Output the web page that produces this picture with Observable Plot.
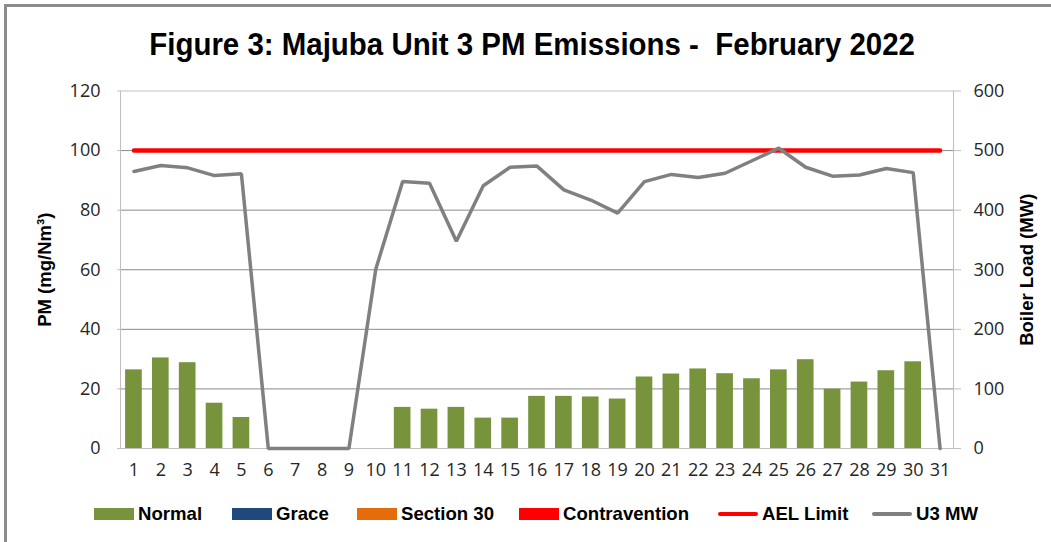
<!DOCTYPE html>
<html>
<head>
<meta charset="utf-8">
<script src="https://cdn.jsdelivr.net/npm/d3@7"></script>
<script src="https://cdn.jsdelivr.net/npm/@observablehq/plot@0.6"></script>
<style>
  body { margin: 0; background: #fff; }
  #wrap { position: relative; width: 1051px; height: 542px; overflow: hidden; background: #fff; }
  #border { position: absolute; left: 4px; top: 4px; width: 1200px; height: 700px;
            border-left: 3px solid #8c8c8c; border-top: 3px solid #8c8c8c; pointer-events: none; }
  #title { height: 72px; width: 1064px; text-align: center; white-space: pre;
           font-family: 'Liberation Sans', Arial, sans-serif;
           font-weight: bold; font-size: 32px; line-height: 88px; color: #000; }
  #title span { display: inline-block; transform: scaleX(0.92); transform-origin: center; }
  #chart svg { display: block; }
  #legend { position: relative; height: 44px;
            font-family: 'Liberation Sans', Arial, sans-serif;
            font-weight: bold; font-size: 18.6px; color: #000; }
  .item { position: absolute; top: 0; height: 44px; display: flex; align-items: center; gap: 4px; white-space: nowrap; }
  .sw { width: 40px; height: 12px; }
  .ln { width: 40px; height: 4px; border-radius: 2px; }
</style>
</head>
<body>
<div id="wrap">
  <div id="title"><span></span></div>
  <div id="chart"></div>
  <div id="legend"></div>
  <div id="border"></div>
</div>
<script>
// ---- data ----
const titleText = "Figure 3: Majuba Unit 3 PM Emissions -  February 2022";
const yTitle = "PM (mg/Nm³)";
const y2Title = "Boiler Load (MW)";
const days = [1,2,3,4,5,6,7,8,9,10,11,12,13,14,15,16,17,18,19,20,21,22,23,24,25,26,27,28,29,30,31];
const normal = [26.4, 30.4, 28.8, 15.2, 10.4, null, null, null, null, null,
                13.8, 13.2, 13.8, 10.2, 10.2, 17.5, 17.5, 17.3, 16.6, 24.0,
                25.0, 26.7, 25.1, 23.4, 26.4, 29.8, 19.9, 22.3, 26.1, 29.1, null];
const u3MW = [465, 475, 471, 458, 461, 0, 0, 0, 0, 301,
              448, 445, 348, 441, 472, 474, 434, 417, 395, 448,
              460, 455, 462, 483, 504, 472, 457, 459, 470, 463, 0];
const aelLimit = 100;
const pmTicks = [0, 20, 40, 60, 80, 100, 120];
const mwTicks = [0, 100, 200, 300, 400, 500, 600];
const mwPerPm = 5; // right axis 0–600 MW aligns with left axis 0–120
const legendLabels = ["Normal", "Grace", "Section 30", "Contravention", "AEL Limit", "U3 MW"];

// ---- styles / layout ----
const legendStyle = [
  {color: "#77933c", kind: "bar"},
  {color: "#1f497d", kind: "bar"},
  {color: "#e46c0a", kind: "bar"},
  {color: "#ff0000", kind: "bar"},
  {color: "#ff0000", kind: "line"},
  {color: "#808080", kind: "line"}
];
const legendLeft = [94, 232, 357, 519, 718, 872];

const table = days.map((d, i) => ({day: d, pm: normal[i], mw: u3MW[i], ael: aelLimit}));

document.querySelector("#title span").textContent = titleText;

const sans = "'Liberation Sans', Arial, sans-serif";

const chart = Plot.plot({
  width: 1051,
  height: 420,
  marginTop: 18.5,
  marginBottom: 44,
  marginLeft: 120,
  marginRight: 98,
  style: {fontFamily: "'Open Sans', sans-serif", fontSize: "18px", color: "#262626", background: "transparent", overflow: "visible"},
  x: {type: "band", domain: days, paddingInner: 0.38, paddingOuter: 0.19, round: false},
  y: {domain: [0, 120]},
  marks: [
    Plot.ruleY(pmTicks.filter(d => d > 0 && d < 120), {stroke: "#8a8a8a", strokeWidth: 1}),
    Plot.frame({stroke: "#bfbfbf", strokeWidth: 1}),
    Plot.barY(table, {x: "day", y: "pm", fill: "#77933c"}),
    Plot.lineY(table, {x: "day", y: "ael", stroke: "#ff0000", strokeWidth: 4.5}),
    Plot.lineY(table, {x: "day", y: d => d.mw / mwPerPm, stroke: "#808080", strokeWidth: 3.5, strokeLinejoin: "miter"}),
    Plot.axisX({tickSize: 0, tickPadding: 15, label: null, fontSize: 18, fill: "#262626"}),
    Plot.axisY({anchor: "left", ticks: pmTicks, tickSize: 3, tickPadding: 17, label: null, stroke: "#bfbfbf", fill: "#262626", fontSize: 18}),
    Plot.axisY({anchor: "right", ticks: mwTicks.map(v => v / mwPerPm), tickFormat: d => String(d * mwPerPm),
                tickSize: 7, tickPadding: 13, label: null, stroke: "#bfbfbf", fill: "#262626", fontSize: 18}),
    Plot.text([yTitle], {text: d => d, frameAnchor: "left", rotate: -90, dx: -75, lineAnchor: "middle", textAnchor: "middle",
                fontFamily: sans, fontWeight: "bold", fontSize: 18.5, fill: "#000"}),
    Plot.text([y2Title], {text: d => d, frameAnchor: "right", rotate: -90, dx: 74, lineAnchor: "middle", textAnchor: "middle",
                fontFamily: sans, fontWeight: "bold", fontSize: 18.5, fill: "#000"})
  ]
});
document.getElementById("chart").appendChild(chart);

const legend = document.getElementById("legend");
legendLabels.forEach((label, i) => {
  const st = legendStyle[i];
  const el = document.createElement("div");
  el.className = "item";
  el.style.left = legendLeft[i] + "px";
  const sw = document.createElement("div");
  sw.className = st.kind === "bar" ? "sw" : "ln";
  sw.style.background = st.color;
  const tx = document.createElement("span");
  tx.textContent = label;
  el.appendChild(sw);
  el.appendChild(tx);
  legend.appendChild(el);
});
</script>
</body>
</html>
